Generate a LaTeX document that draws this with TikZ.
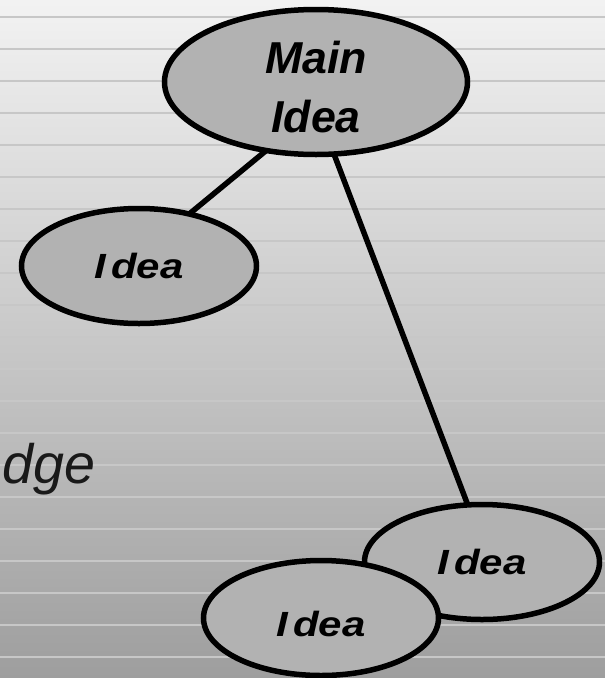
\documentclass[tikz,border=0pt]{standalone}
\usepackage{fontspec}
\newfontfamily\ideafont[FakeStretch=1.2]{Liberation Sans}
\newfontfamily\mainfont{Liberation Sans}
\usetikzlibrary{shapes.geometric}
\definecolor{bubblegray}{gray}{0.70}
\definecolor{stripegray}{gray}{0.78}
\definecolor{bgtop}{gray}{0.95}
\definecolor{bgbottom}{gray}{0.62}
\tikzset{
    bubble/.style={
           ellipse,
           draw=black, line width=5.5pt,
           fill=bubblegray,
           inner sep=0pt, outer sep=0pt,
           minimum width=235pt, minimum height=115pt,
           font=\ideafont\bfseries\itshape\fontsize{35}{42}\selectfont,
           text centered},
    mainbubble/.style={
           bubble,
           minimum width=303pt, minimum height=145pt},
    maintext/.style={
           align=center,
           font=\mainfont\bfseries\itshape\fontsize{44.7}{58.3}\selectfont},
    link/.style={
           line width=5.5pt}
}

\begin{document}
\begin{tikzpicture}[x=1pt, y=-1pt]
        \useasboundingbox (0,0) rectangle (605,678);
        % striped backdrop
        \shade[top color=bgtop, bottom color=bgbottom] (0,0) rectangle (605,678);
        \foreach \k in {0,...,20}
            \draw[stripegray, line width=2pt] (0,{17+32*\k}) -- (605,{17+32*\k});

        \node[anchor=base west, inner sep=0pt, text=black!90,
              font=\mainfont\itshape\fontsize{55.6}{60}\selectfont] (dge) at (2,483) {dge};

        \node[mainbubble] (main) at (316,82) {};
        \node[maintext] (mainlbl) at (316,87) {Main\\Idea};
        \node[bubble] (left) at (139,266) {I\kern5pt dea};
        \node[bubble] (right) at (482,562) {I\kern5pt dea};
        \node[bubble, text height=37pt] (low) at (321,618) {I\kern5pt dea};

        \draw[link] (left.46.6) -- (main.234);
        \draw[link] (main.284.6) -- (right.104.3);
    \end{tikzpicture}
\end{document}
